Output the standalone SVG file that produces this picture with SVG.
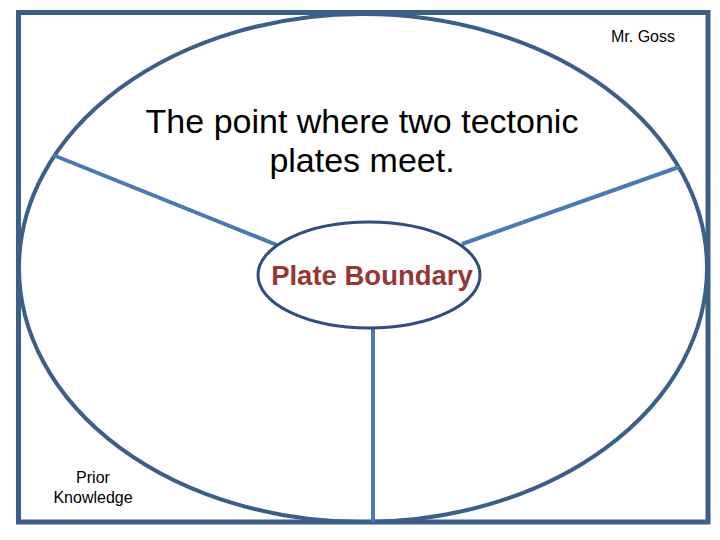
<svg xmlns="http://www.w3.org/2000/svg" width="720" height="540" viewBox="0 0 720 540">
<style>
.frame{fill:none;stroke:#3c5f8a;stroke-width:5}
.big{fill:none;stroke:#3c5f8a;stroke-width:4}
.small{fill:#fff;stroke:#2f4d7d;stroke-width:3}
.spoke{stroke:#4a7ab4;stroke-width:4;fill:none}
.t{font-family:"Liberation Sans",Arial,sans-serif;fill:#000}
</style>
<rect width="720" height="540" fill="#fff"/>
<rect id="frame" class="frame" x="18.5" y="12.5" width="689.5" height="509.5"/>
<g id="outer-circle"><ellipse class="big" cx="363" cy="268" rx="344" ry="254"/></g>
<g id="connectors">
<line class="spoke" x1="53" y1="155" x2="277" y2="245"/>
<line class="spoke" x1="679" y1="167" x2="462" y2="244"/>
<line class="spoke" x1="373" y1="328" x2="373" y2="522"/>
</g>
<g id="center-node">
<ellipse class="small" cx="369" cy="275" rx="111" ry="53"/>
<text class="t" x="372" y="285" text-anchor="middle" font-size="27.5" font-weight="bold" style="fill:#953735">Plate Boundary</text>
</g>
<g id="definition">
<text class="t" x="362" y="133" text-anchor="middle" font-size="34">The point where two tectonic</text>
<text class="t" x="362" y="172" text-anchor="middle" font-size="34">plates meet.</text>
</g>
<g id="author"><text class="t" x="643" y="42" text-anchor="middle" font-size="16">Mr. Goss</text></g>
<g id="prior-knowledge">
<text class="t" x="93" y="483" text-anchor="middle" font-size="16">Prior</text>
<text class="t" x="93" y="503" text-anchor="middle" font-size="16">Knowledge</text>
</g>
</svg>
